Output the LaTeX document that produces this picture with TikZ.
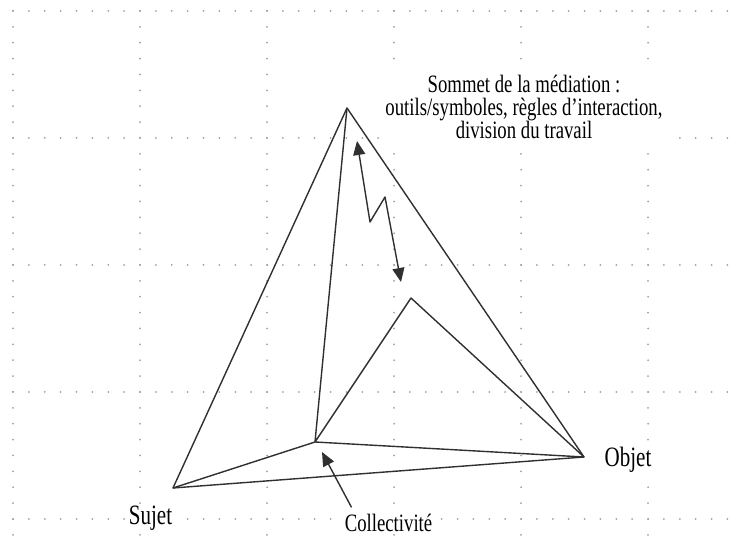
\documentclass[tikz,border=0pt]{standalone}
\usepackage{fontspec}
\setmainfont{Liberation Serif}
\newfontfamily\condserif[FakeStretch=0.75]{Liberation Serif}
\usetikzlibrary{arrows.meta,positioning}
\definecolor{TriLine}{HTML}{303030}
\definecolor{GridDot}{HTML}{A0A0A0}

\begin{document}
\begin{tikzpicture}[x=1pt, y=-1pt,
  edge/.style={draw=TriLine, line width=1.4pt, line join=round},
  arr/.style={edge, -{Triangle[length=14pt,width=12pt]}},
  dblarr/.style={edge, {Triangle[length=14pt,width=12pt]}-{Triangle[length=14pt,width=12pt]}},
  griddot/.style={fill=GridDot},
  lbl/.style={fill=white, inner sep=2pt, font=\condserif\fontsize{25}{23}\selectfont},
  biglbl/.style={lbl, font=\condserif\fontsize{28}{30}\selectfont}]
  \useasboundingbox (0,0) rectangle (737,537);
  \foreach \gx in {13,140,267,394,521,648}
    \foreach \k in {0,...,33}
      \fill[griddot] (\gx,11+\k*15.875) circle (1pt);
  \foreach \gy in {11,138,265,392,519}
    \foreach \k in {0,...,45}
      \fill[griddot] (13+\k*15.875,\gy) circle (1pt);

  \coordinate (apex) at (347,108);
  \coordinate (sujet) at (173,488);
  \coordinate (objet) at (584,457);
  \coordinate (coll) at (315,442);
  \coordinate (inner) at (411,298);
  \coordinate (mtop) at (357,141);
  \coordinate (zzA) at (370,222);
  \coordinate (zzB) at (385,197);
  \coordinate (mbot) at (401,282);
  \coordinate (colltip) at (322,452);

  \draw[edge] (apex) -- (sujet) -- (objet) -- cycle;
  \draw[edge] (sujet) -- (coll) -- (objet);
  \draw[edge] (apex) -- (coll) -- (inner) -- (objet);
  \draw[dblarr] (mtop) -- (zzA) -- (zzB) -- (mbot);

  \node[lbl, align=center, anchor=north] (sommet) at (524,73)
    {Sommet de la médiation :\\outils/symboles, règles d’interaction,\\division du travail};
  \node[biglbl, anchor=base] (sujetlbl) at (150.5,525) {Sujet};
  \node[biglbl, anchor=base] (objetlbl) at (628,467) {Objet};
  \node[lbl, anchor=base] (colllbl) at (388.5,531) {Collectivité};
  \draw[arr] ([shift={(9,-4)}]colllbl.north west) -- (colltip);
\end{tikzpicture}
\end{document}
